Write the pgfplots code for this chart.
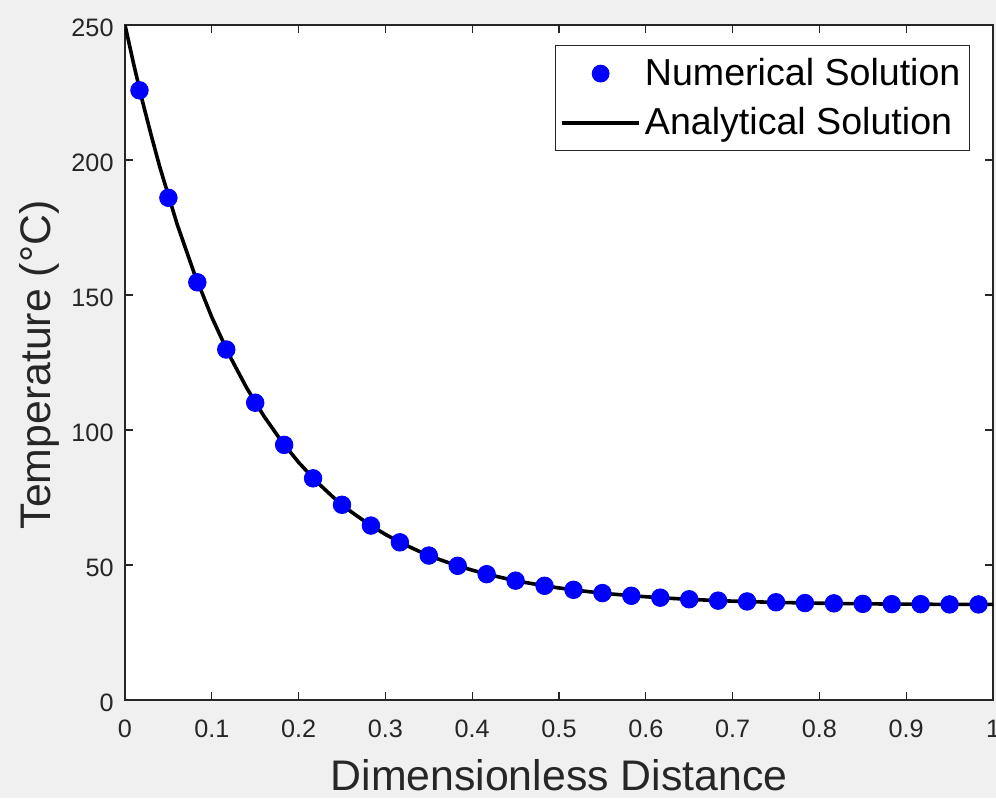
\documentclass[border=0pt]{standalone}
\usepackage{pgfplots}
\pgfplotsset{compat=1.18}
\usepackage{fontspec}
\setmainfont{Liberation Sans}
\definecolor{figbg}{HTML}{F0F0F0}
\definecolor{axc}{HTML}{262626}
\begin{document}
\begin{tikzpicture}
\fill[figbg] (0,0) rectangle (498pt,399pt);
\begin{axis}[
  at={(62.5pt,49pt)}, anchor=south west,
  scale only axis, width=434pt, height=337.5pt,
  xmin=0, xmax=1, ymin=0, ymax=250,
  xtick={0,0.1,0.2,0.3,0.4,0.5,0.6,0.7,0.8,0.9,1},
  xticklabels={0,0.1,0.2,0.3,0.4,0.5,0.6,0.7,0.8,0.9,1},
  ytick={0,50,100,150,200,250},
  axis background/.style={fill=white},
  axis line style={axc, line width=0.6pt},
  tick style={axc, line width=0.6pt},
  tick align=inside, tick pos=both, major tick length=3.8pt,
  /pgf/number format/assume math mode=true,
  ticklabel style={font=\fontsize{12.6}{14}\selectfont, text=axc},
  xticklabel style={yshift=-6.3pt},
  yticklabel style={xshift=-2.2pt, yshift=-1.2pt},
  xlabel={Dimensionless Distance},
  ylabel={Temperature (°C)},
  label style={font=\fontsize{21.4}{25}\selectfont, text=axc},
  xlabel style={at={(axis description cs:0.5,-0.1348)}, anchor=base},
  ylabel style={at={(axis description cs:-0.0991,0.4963)}, anchor=center},
  legend style={at={(0.9735,0.9704)}, anchor=north east, draw=axc, line width=0.5pt,
    font=\fontsize{18.8}{22}\selectfont, inner xsep=2.5pt, inner ysep=4.5pt,
    row sep=5.5pt, cells={anchor=west}},
  legend cell align=left,
]
\addplot[only marks, mark=*, mark size=4.4pt, draw=blue, fill=blue,
  legend image code/.code={\fill[blue] (19.25pt,0pt) circle (4.2pt); \path[draw=none,fill=none] (0pt,0pt) -- (38.5pt,0pt);}]
coordinates {
(0.01667,225.8) (0.05,186.0) (0.08333,154.7) (0.11667,129.8) (0.15,110.1)
(0.18333,94.5) (0.21667,82.1) (0.25,72.3) (0.28333,64.6) (0.31667,58.4)
(0.35,53.5) (0.38333,49.7) (0.41667,46.6) (0.45,44.2) (0.48333,42.3)
(0.51667,40.8) (0.55,39.6) (0.58333,38.6) (0.61667,37.9) (0.65,37.3)
(0.68333,36.8) (0.71667,36.5) (0.75,36.2) (0.78333,35.9) (0.81667,35.8)
(0.85,35.6) (0.88333,35.5) (0.91667,35.5) (0.95,35.4) (0.98333,35.4)
};
\addlegendentry{Numerical Solution}
\addplot[black, line width=1.8pt, line join=round,
  legend image code/.code={\draw[black, line width=1.8pt] (0pt,0pt) -- (38.5pt,0pt);}]
coordinates {
(0,250.00) (0.01,235.5) (0.02,221.91) (0.03,209.4) (0.04,197.50) (0.06,176.27) (0.08,157.81)
(0.10,141.77) (0.12,127.82) (0.14,115.69) (0.16,105.15) (0.18,95.99)
(0.20,88.02) (0.22,81.09) (0.24,75.07) (0.26,69.84) (0.28,65.29)
(0.30,61.33) (0.32,57.89) (0.34,54.90) (0.36,52.30) (0.38,50.04)
(0.40,48.08) (0.42,46.37) (0.44,44.89) (0.46,43.60) (0.48,42.47)
(0.50,41.50) (0.52,40.65) (0.54,39.92) (0.56,39.27) (0.58,38.72)
(0.60,38.24) (0.62,37.82) (0.64,37.45) (0.66,37.14) (0.68,36.86)
(0.70,36.62) (0.72,36.42) (0.74,36.24) (0.76,36.09) (0.78,35.96)
(0.80,35.84) (0.82,35.75) (0.84,35.67) (0.86,35.60) (0.88,35.54)
(0.90,35.49) (0.92,35.46) (0.94,35.43) (0.96,35.41) (0.98,35.40) (1.00,35.39)
};
\addlegendentry{Analytical Solution}
\end{axis}
\pgfresetboundingbox
\path (0,0) rectangle (498pt,399pt);
\end{tikzpicture}
\end{document}
